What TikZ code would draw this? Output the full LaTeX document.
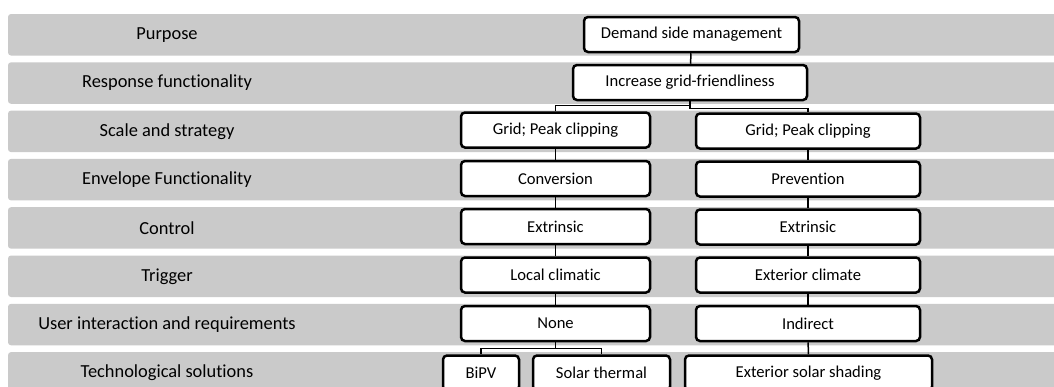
\documentclass[tikz,border=0pt]{standalone}
\usepackage{fontspec}
\setmainfont[Ligatures=NoCommon]{Carlito}
\usetikzlibrary{positioning}
\definecolor{bandgray}{RGB}{202,202,202}
\tikzset{
  band/.style     = {fill=bandgray, rounded corners=1.5pt},
  rowlabel/.style = {font=\fontsize{9.2}{11}\selectfont},
  box/.style      = {draw, line width=1.25pt, fill=white, rounded corners=2pt,
                     minimum height=17.5pt, inner sep=0pt,
                     font=\fontsize{8.3}{10}\selectfont},
  wire/.style     = {line width=0.75pt},
}

\begin{document}
\begin{tikzpicture}[x=0.5pt,y=-0.5pt]
  \useasboundingbox (0,0) rectangle (1054,386);
  \clip (0,0) rectangle (1054,386);

  % grey bands with the level names
  \foreach \lbl [count=\i from 0] in {Purpose, Response functionality,
      Scale and strategy, Envelope Functionality, Control, Trigger,
      User interaction and requirements, Technological solutions} {
    \fill[band] (8,{14+48.3*\i}) rectangle (1070,{55.5+48.3*\i});
    \node[rowlabel] (row\i) at (167,{34.75+48.3*\i}) {\lbl};
  }

  % top of the tree
  \node[box, minimum width=107.5pt] (dsm) at (691.5,34.5) {Demand side management};
  \node[box, minimum width=117pt]   (inc) at (690,82.5)   {Increase grid-friendliness};

  % left branch
  \node[box, minimum width=94.5pt] (gridL)  at (555.5,130)   {Grid; Peak clipping};
  \node[box, minimum width=94.5pt] (conv)   at (555.5,178.5) {Conversion};
  \node[box, minimum width=94.5pt] (extL)   at (555.5,226.5) {Extrinsic};
  \node[box, minimum width=94.5pt] (local)  at (555.5,275)   {Local climatic};
  \node[box, minimum width=94.5pt] (none)   at (555.5,323.5) {None};
  \node[box, minimum width=38pt]   (bipv)   at (481,373)     {BiPV};
  \node[box, minimum width=68.5pt] (solth)  at (601.5,373)   {Solar thermal};

  % right branch
  \node[box, minimum width=112pt]   (gridR) at (808,131)   {Grid; Peak clipping};
  \node[box, minimum width=112pt]   (prev)  at (808,179)   {Prevention};
  \node[box, minimum width=112pt]   (extR)  at (808,227)   {Extrinsic};
  \node[box, minimum width=112pt]   (extc)  at (808,275)   {Exterior climate};
  \node[box, minimum width=112pt]   (indir) at (808,323.5) {Indirect};
  \node[box, minimum width=123.5pt] (shade) at (808.5,373) {Exterior solar shading};

  % connectors
  \draw[wire] (dsm) -- (inc);
  \draw[wire] (inc.south) -- ++(0,4) -| (gridL.north);
  \draw[wire] (inc.south) -- ++(0,7) -| (gridR.north);
  \foreach \a/\b in {gridL/conv, conv/extL, extL/local, local/none,
                     gridR/prev, prev/extR, extR/extc, extc/indir, indir/shade}
    \draw[wire] (\a) -- (\b);
  \draw[wire] (none.south) -- ++(0,6) -| (bipv.north);
  \draw[wire] (none.south) -- ++(0,6) -| (solth.north);
\end{tikzpicture}
\end{document}
